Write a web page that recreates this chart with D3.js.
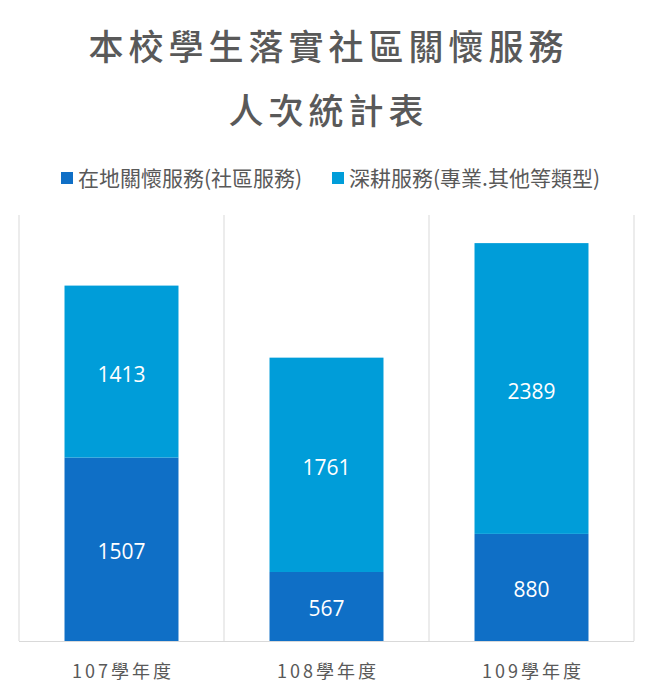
<!DOCTYPE html>
<html>
<head>
<meta charset="utf-8">
<script src="https://cdn.jsdelivr.net/npm/d3@7"></script>
<style>
  body { margin: 0; background: #fff; }
  svg { display: block; }
</style>
</head>
<body>
<svg></svg>
<script>
const W = 652, H = 700;
const SVG = d3.select('svg').attr('width', W).attr('height', H);

// --- data
const CATEGORIES = ['107學年度', '108學年度', '109學年度'];
const SERIES = ['在地關懷服務(社區服務)', '深耕服務(專業.其他等類型)'];
const LOCAL = [1507, 567, 880];
const DEEP = [1413, 1761, 2389];
const TITLE = ['本校學生落實社區關懷服務', '人次統計表'];
const COLORS = ['#0F6FC6', '#009DD9'];

const FONT = '"Noto Sans CJK TC", "Noto Sans", sans-serif';
const plot = { left: 19, right: 634, top: 215, bottom: 641 };

const rows = CATEGORIES.map((c, i) => ({ cat: c, local: LOCAL[i], deep: DEEP[i] }));
const stacked = d3.stack().keys(['local', 'deep'])(rows);

const x = d3.scaleBand()
  .domain(CATEGORIES)
  .range([plot.left, plot.right])
  .paddingInner(0.444)
  .paddingOuter(0.222);

const y = d3.scaleLinear().domain([0, 3500]).range([plot.bottom, plot.top]);

// title
SVG.append('g').selectAll('text')
  .data(TITLE)
  .join('text')
  .attr('x', W / 2 + 2.5)
  .attr('y', (d, i) => 60 + i * 64)
  .attr('text-anchor', 'middle')
  .attr('font-family', FONT)
  .attr('font-weight', 500)
  .attr('font-size', 35)
  .attr('letter-spacing', 5)
  .attr('fill', '#595959')
  .text(d => d);

// legend
const legend = SVG.append('g').attr('font-family', FONT).attr('font-size', 21).attr('fill', '#595959');
const legendX = [61, 332];
SERIES.forEach((s, i) => {
  legend.append('rect')
    .attr('x', legendX[i]).attr('y', 172)
    .attr('width', 12).attr('height', 12)
    .attr('fill', COLORS[i]);
  legend.append('text')
    .attr('x', legendX[i] + 17).attr('y', 186)
    .text(s);
});

// vertical category separators
const step = x.step();
const seps = d3.range(CATEGORIES.length + 1).map(i => plot.left + i * step);
SVG.append('g').selectAll('line')
  .data(seps)
  .join('line')
  .attr('x1', d => d).attr('x2', d => d)
  .attr('y1', plot.top).attr('y2', plot.bottom)
  .attr('stroke', '#d9d9d9').attr('stroke-width', 1);

// bars
const layer = SVG.append('g').selectAll('g')
  .data(stacked)
  .join('g')
  .attr('fill', (d, i) => COLORS[i]);

layer.selectAll('rect')
  .data(d => d)
  .join('rect')
  .attr('x', d => x(d.data.cat))
  .attr('y', d => y(d[1]))
  .attr('width', x.bandwidth())
  .attr('height', d => y(d[0]) - y(d[1]));

// value labels, centred in each segment
layer.selectAll('text')
  .data(d => d)
  .join('text')
  .attr('x', d => x(d.data.cat) + x.bandwidth() / 2)
  .attr('y', d => (y(d[0]) + y(d[1])) / 2 + 10)
  .attr('text-anchor', 'middle')
  .attr('font-family', '"Open Sans", sans-serif')
  .attr('font-size', 21)
  .attr('fill', '#fff')
  .text(d => d[1] - d[0]);

// baseline + x axis
const xAxis = d3.axisBottom(x).tickSize(0).tickPadding(24);
const xAxisG = SVG.append('g').attr('transform', `translate(0,${plot.bottom})`).call(xAxis);
xAxisG.select('.domain').attr('stroke', '#d9d9d9').attr('d', `M${plot.left},0.5H${plot.right}`);
xAxisG.selectAll('text')
  .attr('font-family', FONT)
  .attr('font-size', 18)
  .attr('letter-spacing', 3)
  .attr('dx', 1.5)
  .attr('fill', '#595959');
</script>
</body>
</html>
